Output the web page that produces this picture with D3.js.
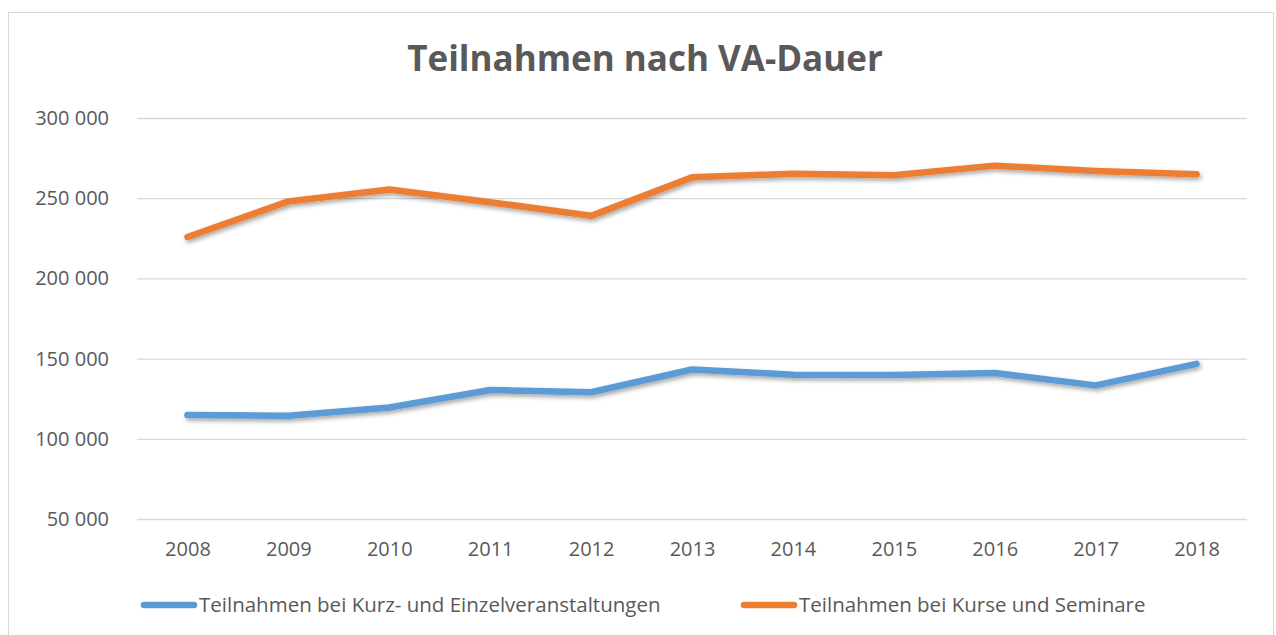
<!DOCTYPE html>
<html>
<head>
<meta charset="utf-8">
<script src="https://cdn.jsdelivr.net/npm/d3@7"></script>
<style>
	body { margin: 0; background: #fff; }
	text { font-family: 'Open Sans', sans-serif; fill: #595959; }
</style>
</head>
<body>
<div id="chart"></div>
<script>
var years = ['2008', '2009', '2010', '2011', '2012', '2013', '2014', '2015', '2016', '2017', '2018']
var kurzValues = [114900, 114300, 119500, 130400, 129000, 143200, 140000, 139700, 141000, 133300, 146700]
var kurseValues = [225800, 248000, 255400, 247500, 239000, 263000, 265200, 264300, 270300, 267000, 265000]
var seriesNames = ['Teilnahmen bei Kurz- und Einzelveranstaltungen', 'Teilnahmen bei Kurse und Seminare']
var seriesColors = ['#5b9bd5', '#ed7d31']
var yTicks = [50000, 100000, 150000, 200000, 250000, 300000]

var width = 1276, height = 635
var svg = d3.select('#chart').append('svg')
	.attr('width', width).attr('height', height)

var defs = svg.append('defs')
var f = defs.append('filter').attr('id', 'shadow')
	.attr('x', '-5%').attr('y', '-50%').attr('width', '110%').attr('height', '200%')
f.append('feDropShadow').attr('dx', 1.5).attr('dy', 2.5).attr('stdDeviation', 2)
	.attr('flood-color', '#000').attr('flood-opacity', 0.35)

// chart frame
svg.append('rect').attr('x', 8.5).attr('y', 12.5).attr('width', 1265).attr('height', 640)
	.attr('fill', 'none').attr('stroke', '#d9d9d9').attr('stroke-width', 1)

svg.append('text').attr('x', 645).attr('y', 71)
	.attr('text-anchor', 'middle').style('font-size', '35px').style('font-weight', 'bold')
	.text('Teilnahmen nach VA-Dauer')

var x = d3.scalePoint().domain(years).range([137, 1247]).padding(0.5)
var y = d3.scaleLinear().domain([50000, 300000]).range([519, 118])

var fmt = function(d) { return d3.format(',')(d).replace(/,/g, ' ') }

var yAxis = svg.append('g').attr('transform', 'translate(137,0)')
	.call(d3.axisLeft(y).tickValues(yTicks).tickSize(-1110).tickPadding(28).tickFormat(fmt))
yAxis.select('.domain').remove()
yAxis.selectAll('line').attr('stroke', '#d9d9d9').attr('stroke-width', 1.3)
yAxis.selectAll('text').style('font-size', '20px').style('font-family', "'Open Sans', sans-serif").attr('fill', '#595959')

var xAxis = svg.append('g').attr('transform', 'translate(0,519)')
	.call(d3.axisBottom(x).tickSize(0).tickPadding(23))
xAxis.select('.domain').remove()
xAxis.selectAll('text').style('font-size', '20px').style('font-family', "'Open Sans', sans-serif").attr('fill', '#595959')

var line = d3.line().x(function(d, i) { return x(years[i]) }).y(function(d) { return y(d) })

var allSeries = [kurzValues, kurseValues]
svg.selectAll('.series').data(allSeries).enter().append('path')
	.attr('class', 'series')
	.attr('d', line)
	.attr('fill', 'none')
	.attr('stroke', function(d, i) { return seriesColors[i] })
	.attr('stroke-width', 6.5)
	.attr('stroke-linejoin', 'round').attr('stroke-linecap', 'round')
	.attr('filter', 'url(#shadow)')

// legend
var legendX = [141, 741]
var lg = svg.selectAll('.legend').data(seriesNames).enter().append('g')
	.attr('class', 'legend')
	.attr('transform', function(d, i) { return 'translate(' + legendX[i] + ',605)' })
lg.append('line').attr('x1', 3).attr('x2', 53).attr('y1', 0).attr('y2', 0)
	.attr('stroke', function(d, i) { return seriesColors[i] })
	.attr('stroke-width', 6.5).attr('stroke-linecap', 'round')
lg.append('text').attr('x', 58).attr('y', 0).attr('dy', '0.35em')
	.style('font-size', '20.5px').text(function(d) { return d })
</script>
</body>
</html>
